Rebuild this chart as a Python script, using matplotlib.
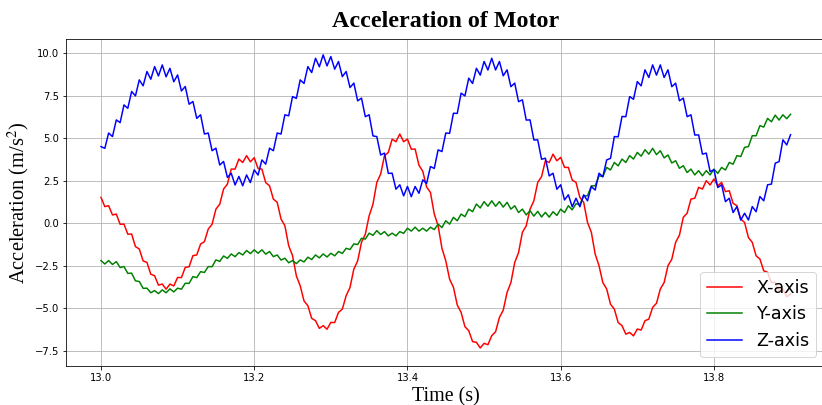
import numpy as np
import matplotlib
matplotlib.use("Agg")
import matplotlib.pyplot as plt

plt.rcParams['mathtext.fontset'] = 'stix'

# time axis: 13.0 s to 13.9 s, 0.005 s step
t = np.linspace(13.0, 13.9, 181)

# Acceleration values (m/s^2)
x_axis = [
    1.52, 0.98, 1.03, 0.49, 0.54, -0.06, -0.05, -0.64, -0.63, -1.37,
    -1.51, -2.21, -2.30, -2.99, -3.08, -3.63, -3.57, -3.87, -3.57, -3.68,
    -3.18, -3.19, -2.59, -2.55, -1.90, -1.86, -1.22, -1.08, -0.34, -0.06,
    0.83, 1.12, 2.01, 2.30, 3.18, 3.18, 3.77, 3.57, 3.97, 3.61,
    3.85, 3.22, 3.18, 2.39, 2.20, 1.42, 1.23, 0.25, -0.14, -1.32,
    -1.90, -3.09, -3.67, -4.56, -4.84, -5.58, -5.72, -6.17, -6.01, -6.22,
    -5.82, -5.83, -5.23, -5.04, -4.25, -3.77, -2.69, -2.21, -1.12, -0.64,
    0.44, 1.12, 2.40, 2.89, 3.97, 4.16, 4.94, 4.79, 5.24, 4.79,
    4.94, 4.35, 4.36, 3.41, 3.05, 2.13, 1.81, 0.54, -0.14, -1.47,
    -2.20, -3.28, -3.76, -4.80, -5.23, -6.07, -6.31, -6.95, -6.99, -7.32,
    -7.05, -7.13, -6.60, -6.37, -5.53, -5.10, -4.06, -3.48, -2.30, -1.72,
    -0.53, -0.15, 0.83, 1.32, 2.40, 2.74, 3.67, 3.57, 4.06, 3.67,
    3.87, 3.28, 3.28, 2.54, 2.40, 1.52, 1.23, 0.05, -0.53, -1.81,
    -2.49, -3.48, -3.86, -4.75, -5.04, -5.83, -6.01, -6.51, -6.41, -6.61,
    -6.21, -6.27, -5.72, -5.63, -4.94, -4.70, -3.86, -3.48, -2.49, -2.11,
    -1.12, -0.69, 0.35, 0.59, 1.42, 1.47, 2.11, 2.01, 2.50, 2.25,
    2.60, 2.20, 2.40, 1.86, 1.91, 1.17, 1.03, 0.24, 0.05, -0.84,
    -1.12, -1.91, -2.10, -2.79, -2.88, -3.48, -3.47, -3.97, -3.86, -4.31,
    -4.16]

y_axis = [
    -2.19, -2.39, -2.19, -2.42, -2.25, -2.60, -2.54, -2.94, -2.93, -3.38,
    -3.42, -3.82, -3.81, -4.08, -3.95, -4.13, -3.91, -4.08, -3.85, -4.03,
    -3.81, -3.87, -3.52, -3.53, -3.13, -3.19, -2.84, -2.89, -2.54, -2.55,
    -2.15, -2.24, -1.92, -2.06, -1.80, -1.96, -1.72, -1.86, -1.60, -1.78,
    -1.56, -1.76, -1.56, -1.81, -1.66, -1.96, -1.86, -2.16, -2.05, -2.32,
    -2.19, -2.37, -2.15, -2.27, -1.99, -2.13, -1.86, -2.03, -1.80, -1.98,
    -1.76, -1.91, -1.66, -1.77, -1.47, -1.54, -1.21, -1.25, -0.88, -0.93,
    -0.58, -0.71, -0.43, -0.66, -0.49, -0.74, -0.58, -0.74, -0.49, -0.59,
    -0.29, -0.46, -0.23, -0.46, -0.29, -0.46, -0.23, -0.37, -0.05, -0.25,
    0.15, -0.05, 0.35, 0.15, 0.54, 0.39, 0.83, 0.68, 1.13, 0.90,
    1.27, 1.00, 1.32, 1.00, 1.27, 0.95, 1.23, 0.83, 1.03, 0.63,
    0.83, 0.49, 0.74, 0.42, 0.70, 0.37, 0.64, 0.36, 0.68, 0.46,
    0.83, 0.63, 1.03, 0.79, 1.15, 1.09, 1.62, 1.61, 2.20, 2.20,
    2.79, 2.74, 3.28, 3.13, 3.57, 3.37, 3.77, 3.57, 3.97, 3.77,
    4.16, 3.94, 4.32, 4.06, 4.40, 4.03, 4.26, 3.84, 4.01, 3.54,
    3.67, 3.23, 3.38, 2.98, 3.18, 2.84, 3.09, 2.79, 3.09, 2.84,
    3.18, 2.93, 3.28, 3.13, 3.57, 3.47, 3.97, 3.92, 4.46, 4.50,
    5.14, 5.14, 5.73, 5.65, 6.16, 5.96, 6.35, 6.06, 6.37, 6.14,
    6.40]

z_axis = [
    4.50, 4.40, 5.30, 5.09, 6.07, 5.91, 6.95, 6.75, 7.74, 7.48,
    8.42, 8.07, 8.91, 8.46, 9.20, 8.65, 9.30, 8.60, 9.10, 8.31,
    8.71, 7.77, 8.03, 6.99, 7.15, 6.16, 6.37, 5.24, 5.30, 4.26,
    4.41, 3.42, 3.63, 2.69, 2.94, 2.25, 2.75, 2.20, 2.84, 2.39,
    3.14, 2.83, 3.72, 3.47, 4.41, 4.26, 5.30, 5.24, 6.37, 6.31,
    7.44, 7.33, 8.42, 8.21, 9.20, 8.85, 9.69, 9.19, 9.89, 9.24,
    9.79, 9.05, 9.50, 8.61, 8.91, 7.97, 8.23, 7.19, 7.35, 6.26,
    6.37, 5.13, 5.09, 4.01, 4.12, 2.93, 2.94, 2.00, 2.26, 1.61,
    2.16, 1.56, 2.16, 1.76, 2.55, 2.34, 3.33, 3.22, 4.31, 4.21,
    5.30, 5.28, 6.46, 6.45, 7.64, 7.48, 8.52, 8.21, 9.10, 8.70,
    9.50, 9.00, 9.69, 9.00, 9.50, 8.66, 9.01, 8.02, 8.23, 7.14,
    7.25, 6.06, 6.07, 4.89, 4.90, 3.76, 3.82, 2.78, 2.94, 2.00,
    2.26, 1.37, 1.67, 0.97, 1.47, 0.97, 1.67, 1.32, 2.16, 1.95,
    2.94, 2.73, 3.72, 3.81, 5.09, 5.08, 6.27, 6.26, 7.44, 7.28,
    8.32, 8.07, 9.01, 8.56, 9.30, 8.70, 9.30, 8.56, 9.01, 8.02,
    8.23, 7.19, 7.35, 6.26, 6.37, 5.18, 5.19, 4.06, 4.12, 3.03,
    3.14, 2.10, 2.26, 1.27, 1.47, 0.63, 0.98, 0.19, 0.59, 0.19,
    0.98, 0.68, 1.57, 1.32, 2.26, 2.30, 3.53, 3.62, 4.90, 4.60,
    5.20]

x_ticks = [13.0, 13.2, 13.4, 13.6, 13.8]
y_ticks = [-7.5, -5.0, -2.5, 0.0, 2.5, 5.0, 7.5, 10.0]

# figure at 72 dpi so the default point sizes match the screenshot
fig = plt.figure(figsize=(822 / 72, 405 / 72), dpi=72)
ax = fig.add_axes([0.0809, 0.0963, 0.9228, 0.8074])

ax.plot(t, x_axis, color='r', label='X-axis')
ax.plot(t, y_axis, color='g', label='Y-axis')
ax.plot(t, z_axis, color='b', label='Z-axis')

ax.set_xlim(12.955, 13.945)
ax.set_ylim(-8.38, 10.82)
ax.set_xticks(x_ticks)
ax.set_yticks(y_ticks)
ax.grid(True)

serif = ['Liberation Serif', 'DejaVu Serif']
ax.set_title('Acceleration of Motor', fontsize=24, fontweight='bold',
             family=serif, pad=12)
ax.set_xlabel('Time (s)', fontsize=20, family=serif)
ax.set_ylabel(r'Acceleration (m/s$^2$)', fontsize=20.5, family=serif)

ax.legend(loc='lower right', fontsize=17.5)

fig.savefig('out.png', dpi=72)
